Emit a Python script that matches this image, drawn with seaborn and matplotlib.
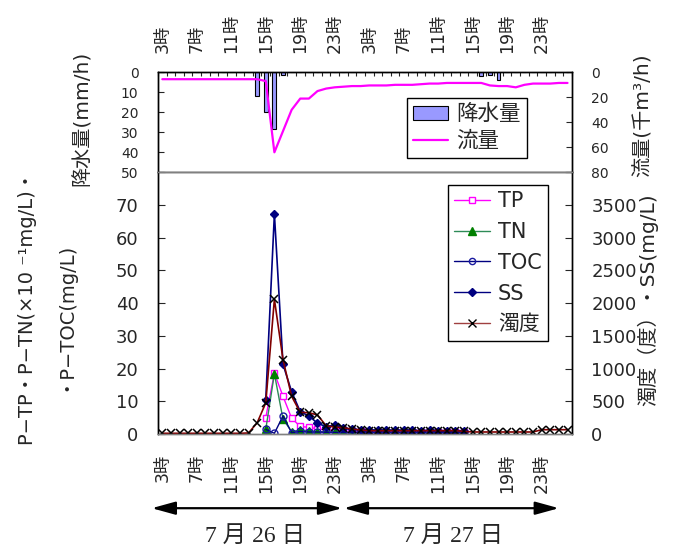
import matplotlib
matplotlib.use('Agg')
import matplotlib.pyplot as plt
import seaborn as sns
import pandas as pd
from matplotlib.lines import Line2D
from matplotlib.patches import Patch

sns.set_style('ticks')
plt.rcParams['font.family'] = ['DejaVu Sans', 'Noto Sans CJK JP']
plt.rcParams['axes.unicode_minus'] = False

# hourly categories: 3時 7/26 ... 2時 7/28
hours = list(range(48))
hour_labels = ['3時', '7時', '11時', '15時', '19時', '23時'] * 2

# rainfall (mm/h) and flow (千m3/h)
rain = [0, 0, 0, 0, 0, 0, 0, 0, 0, 0, 0, 12, 20, 28.5, 1.5, 0, 0, 0, 0, 0, 0, 0, 0, 0,
        0, 0, 0, 0, 0, 0, 0, 0, 0, 0, 0, 0, 0, 2, 1.5, 4, 0, 0, 0, 0, 0, 0, 0, 0]
flow = [5.5, 5.5, 5.5, 5.5, 5.5, 5.5, 5.5, 5.5, 5.5, 5.5, 5.5, 5.5, 7, 64, 47, 30,
        21, 21, 15, 13, 12, 11.5, 11, 11, 10.5, 10.5, 10.5, 10, 10, 10, 9.5, 9,
        9, 8.5, 8.5, 8.5, 8.5, 8.5, 10.5, 11, 11, 12, 10, 9, 9, 9, 8.5, 8.5]

# turbidity (度), all hours
turb = [10, 10, 10, 10, 10, 10, 10, 10, 10, 10, 15, 170, 475, 2060, 1135, 575,
        330, 325, 290, 125, 105, 95, 75, 60, 50, 50, 50, 50, 50, 50, 50, 50,
        50, 50, 50, 40, 30, 30, 30, 30, 30, 30, 30, 30, 65, 65, 65, 65]

# water quality samples, 15時 7/26 .. 14時 7/27
wq_hours = list(range(12, 36))
tp = [5.0, 18.6, 11.5, 4.8, 2.3, 2.0, 1.6, 1.3, 1.0, 0.9, 0.8, 0.8, 0.7, 0.7, 0.7,
      0.6, 0.6, 0.7, 0.6, 0.6, 0.5, 0.5, 0.5, 0.5]
tn = [1.4, 18.4, 4.5, 0.7, 1.2, 1.0, 0.7, 0.6, 0.6, 0.5, 0.5, 0.5, 0.5, 0.5, 0.4,
      0.4, 0.4, 0.5, 0.4, 0.4, 0.4, 0.4, 0.4, 0.4]
toc = [1.4, 0.2, 5.5, 0.4, 0.8, 0.6, 0.6, 0.5, 0.5, 0.4, 0.4, 0.5, 0.4, 0.4, 0.4,
       0.4, 0.4, 0.4, 0.3, 0.3, 0.3, 0.3, 0.3, 0.3]
ss = [525, 3365, 1065, 645, 340, 275, 165, 110, 135, 90, 70, 65, 60, 60, 55, 60,
      55, 55, 50, 55, 50, 50, 50, 50]

fig = plt.figure(figsize=(6.84, 5.5), dpi=100)
ax_top = fig.add_axes([0.231, 0.6867, 0.605, 0.1818])
ax_main = fig.add_axes([0.231, 0.211, 0.605, 0.4757])

# ---- top panel: rain bars + flow line
df_rain = pd.DataFrame({'hour': hours, 'rain': rain})
sns.barplot(data=df_rain, x='hour', y='rain', native_scale=True, width=0.45,
            color='#9999ff', saturation=1, edgecolor='black', linewidth=0.8,
            errorbar=None, ax=ax_top)
ax_top.set_xlim(-0.5, 47.5)
ax_top.set_ylim(50, 0)
ax_top.set_yticks(range(0, 60, 10))
ax_top.set_xlabel('')
ax_top.set_ylabel('')

ax_flow = ax_top.twinx()
sns.lineplot(x=hours, y=flow, color='#ff00ff', linewidth=1.6, ax=ax_flow)
ax_flow.set_ylim(80, 0)
ax_flow.set_yticks(range(0, 100, 20))
ax_flow.set_ylabel('')

ax_top.xaxis.tick_top()
ax_top.set_xticks(range(0, 48, 4))
ax_top.set_xticklabels(hour_labels, rotation=90, fontsize=12.5)
ax_top.set_xticks([h - 0.5 for h in hours] + [47.5], minor=True)
ax_top.tick_params(axis='x', which='major', length=0, pad=14)
ax_top.tick_params(axis='x', which='minor', top=True, bottom=False, direction='in', length=3, width=0.8)
ax_top.tick_params(axis='y', direction='in', length=4, pad=14, labelsize=10)
ax_flow.tick_params(axis='y', direction='in', length=4, pad=14, labelsize=10)

# ---- main panel
sns.lineplot(x=wq_hours, y=tp, ax=ax_main, color='#ff00ff', linewidth=1,
             marker='s', markersize=4.5, markerfacecolor='white',
             markeredgecolor='#ff00ff', markeredgewidth=1)
sns.lineplot(x=wq_hours, y=tn, ax=ax_main, color='#2e8b57', linewidth=1,
             marker='^', markersize=5.5, markerfacecolor='#008000',
             markeredgecolor='#008000', markeredgewidth=1)
sns.lineplot(x=wq_hours, y=toc, ax=ax_main, color='#000080', linewidth=1,
             marker='o', markersize=5, markerfacecolor='none',
             markeredgecolor='#1a1aa0', markeredgewidth=1)
ax_main.set_xlim(-0.5, 47.5)
ax_main.set_ylim(0, 80)
ax_main.set_yticks(range(0, 90, 10))
ax_main.set_yticklabels([str(v) for v in range(0, 80, 10)] + [''])

ax_r = ax_main.twinx()
sns.lineplot(x=wq_hours, y=ss, ax=ax_r, color='#000080', linewidth=1.2,
             marker='D', markersize=4.5, markerfacecolor='#000080',
             markeredgecolor='#000080', markeredgewidth=1)
sns.lineplot(x=hours, y=turb, ax=ax_r, color='#800000', linewidth=1.2,
             marker='x', markersize=6, markeredgecolor='black', markeredgewidth=1.1)
ax_r.set_ylim(0, 4000)
ax_r.set_yticks(range(0, 4500, 500))
ax_r.set_yticklabels([str(v) for v in range(0, 4000, 500)] + [''])
ax_r.set_ylabel('')

ax_main.set_xticks(range(0, 48, 4))
ax_main.set_xticklabels(hour_labels, rotation=90, fontsize=12.5)
ax_main.tick_params(axis='x', which='major', length=0, pad=14)
ax_main.tick_params(axis='y', direction='in', length=5, pad=14, labelsize=13)
ax_r.tick_params(axis='y', direction='in', length=5, pad=14, labelsize=13)

for a in (ax_top, ax_flow, ax_main, ax_r):
    for s in a.spines.values():
        s.set_color('black')
        s.set_linewidth(1)
        s.set_visible(True)
for a in (ax_top, ax_flow):
    a.spines['bottom'].set_color('#808080')
for a in (ax_main, ax_r):
    a.spines['top'].set_color('#808080')
    a.spines['bottom'].set_color('#808080')

# legends
top_handles = [Patch(facecolor='#9999ff', edgecolor='black', linewidth=0.8),
               Line2D([], [], color='#ff00ff', linewidth=1.6)]
ax_flow.legend(top_handles, ['降水量', '流量'], loc='upper left',
               bbox_to_anchor=(0.601, 0.746), borderaxespad=0, fancybox=False,
               edgecolor='black', framealpha=1, fontsize=15.5, handlelength=1.6,
               handleheight=0.6, labelspacing=0.3, borderpad=0.3, handletextpad=0.4)

main_handles = [
    Line2D([], [], color='#ff00ff', lw=1, marker='s', ms=4.5, mfc='white', mec='#ff00ff'),
    Line2D([], [], color='#2e8b57', lw=1, marker='^', ms=5.5, mfc='#008000', mec='#008000'),
    Line2D([], [], color='#000080', lw=1, marker='o', ms=4.5, mfc='none', mec='#1a1aa0'),
    Line2D([], [], color='#000080', lw=1, marker='D', ms=4.5, mfc='#000080', mec='#000080'),
    Line2D([], [], color='#a04040', lw=1, marker='x', ms=6, mec='black'),
]
ax_r.legend(main_handles, ['TP', 'TN', 'TOC', 'SS', '濁度'], loc='upper left',
            bbox_to_anchor=(0.701, 0.952), borderaxespad=0, fancybox=False,
            edgecolor='black', framealpha=1, fontsize=15, handlelength=1.7,
            labelspacing=0.52, borderpad=0.3, handletextpad=0.4)

# axis titles
fig.text(0.12, 0.785, '降水量(mm/h)', rotation=90, ha='center', va='center', fontsize=14.5)
fig.text(0.04, 0.44, 'P−TP・P−TN(×10 ⁻¹mg/L)・', rotation=90, ha='center', va='center', fontsize=14)
fig.text(0.09, 0.427, '・P−TOC(mg/L)', rotation=90, ha='center', va='center', fontsize=14)
fig.text(0.94, 0.79, '流量(千m³/h)', rotation=90, ha='center', va='center', fontsize=14.5)
fig.text(0.947, 0.455, '濁度（度）・SS(mg/L)', rotation=90, ha='center', va='center', fontsize=14.5)

# day arrows
arrow = dict(arrowstyle='<|-|>,head_length=0.8,head_width=0.22', color='black',
             lw=1.6, mutation_scale=18, shrinkA=0, shrinkB=0)
ax_main.annotate('', xy=(20.86, 0.076), xytext=(-1.23, 0.076),
                 xycoords=('data', 'figure fraction'), textcoords=('data', 'figure fraction'),
                 arrowprops=arrow, annotation_clip=False)
ax_main.annotate('', xy=(46.0, 0.076), xytext=(21.05, 0.076),
                 xycoords=('data', 'figure fraction'), textcoords=('data', 'figure fraction'),
                 arrowprops=arrow, annotation_clip=False)
fig.text(0.373, 0.024, '7 月 26 日', ha='center', va='center', fontsize=17,
         family=['Liberation Serif', 'Noto Sans CJK JP'])
fig.text(0.662, 0.024, '7 月 27 日', ha='center', va='center', fontsize=17,
         family=['Liberation Serif', 'Noto Sans CJK JP'])

fig.savefig('out.png', dpi=100)
